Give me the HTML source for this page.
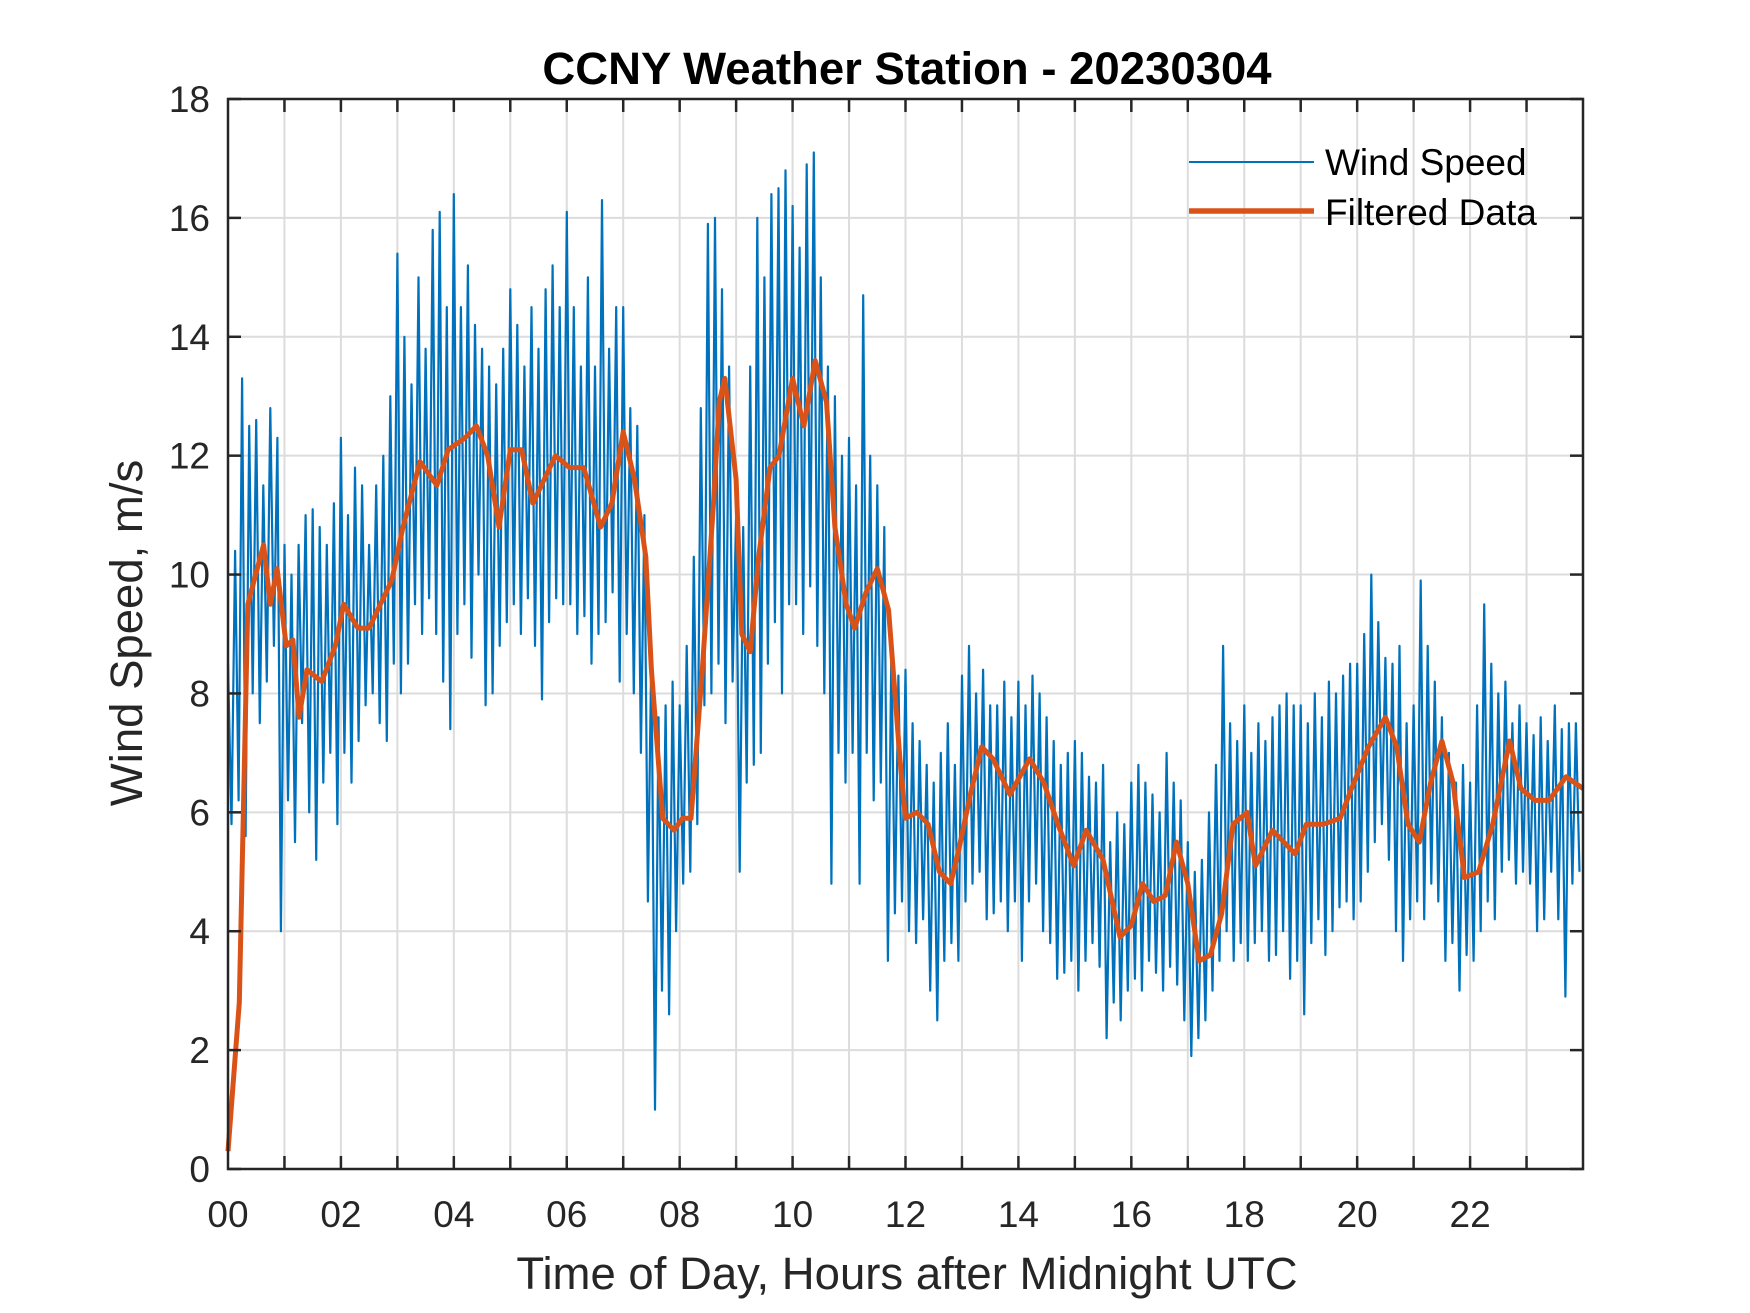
<!DOCTYPE html>
<html><head><meta charset="utf-8"><style>
html,body{margin:0;padding:0;background:#fff}
svg{display:block}
text{font-family:"Liberation Sans",sans-serif;fill:#262626}
</style></head><body>
<svg id="chart" width="1750" height="1313" viewBox="0 0 1750 1313" xmlns="http://www.w3.org/2000/svg">
<rect width="1750" height="1313" fill="#fff"/>
<g id="grid"></g>
<g id="series"></g>
<g id="axes"></g>
<text x="907" y="84" text-anchor="middle" font-size="45.5" font-weight="bold" fill="#000" style="fill:#000">CCNY Weather Station - 20230304</text>
<text x="907" y="1289" text-anchor="middle" font-size="45.5">Time of Day, Hours after Midnight UTC</text>
<text transform="translate(142,633) rotate(-90)" text-anchor="middle" font-size="45.5">Wind Speed, m/s</text>
<g>
<line x1="1189" y1="162" x2="1314" y2="162" stroke="#0072BD" stroke-width="2"/>
<text x="1325" y="175" font-size="37" style="fill:#000">Wind Speed</text>
<line x1="1189" y1="211" x2="1314" y2="211" stroke="#D95319" stroke-width="5.5"/>
<text x="1325" y="225" font-size="37" style="fill:#000">Filtered Data</text>
</g>
</svg>
<script>
const xTickLabels = ["00","02","04","06","08","10","12","14","16","18","20","22"];
const yTickLabels = [0,2,4,6,8,10,12,14,16,18];
// raw wind speed envelope, every 0.125 h (high / low samples)
const rawHigh = [8.5,10.4,13.3,12.5,12.6,11.5,12.8,12.3, 10.5,10.0,10.5,11.0,11.1,10.8,10.5,11.2,
 12.3,11.0,11.8,11.5,10.5,11.5,12.0,13.0, 15.4,14.0,13.2,15.0,13.8,15.8,16.1,14.5,
 16.4,14.5,15.2,14.2,13.8,13.5,13.2,13.8, 14.8,14.2,13.5,14.5,13.8,14.8,15.2,14.5,
 16.1,14.5,13.5,15.0,13.5,16.3,13.8,14.5, 14.5,12.8,12.5,11.0,8.8,7.6,7.8,8.2,
 7.8,8.8,10.3,12.8,15.9,16.0,14.8,13.5, 11.0,10.8,13.5,16.0,15.0,16.4,16.5,16.8,
 16.2,15.5,16.9,17.1,15.0,13.5,13.0,12.0, 12.3,11.5,14.7,12.0,11.5,10.8,8.8,8.3,
 8.4,7.5,7.2,6.8,6.5,7.0,7.5,6.8, 8.3,8.8,8.0,8.4,7.8,7.8,8.2,7.6,
 8.2,7.8,8.3,8.0,7.6,7.2,6.8,7.0, 7.2,7.0,6.6,6.5,6.8,5.5,6.0,5.8,
 6.5,6.8,6.5,6.3,6.0,7.0,6.5,6.2, 5.5,5.0,5.2,6.0,6.8,8.8,7.5,7.2,
 7.8,7.0,7.5,7.2,7.6,7.8,8.0,7.8, 7.8,7.5,8.0,7.6,8.2,8.0,8.3,8.5,
 8.5,9.0,10.0,9.2,8.6,8.5,8.8,7.5, 7.8,9.9,8.8,8.2,7.6,7.0,6.5,6.8,
 6.5,7.8,9.5,8.5,8.0,8.2,7.5,7.8, 7.5,7.3,7.6,7.2,7.8,7.4,7.5,7.5];
const rawLow = [5.8,6.2,5.6,8.0,7.5,8.2,8.8,4.0, 6.2,5.5,7.5,6.0,5.2,6.5,7.0,5.8,
 7.0,6.5,7.2,7.8,8.0,7.5,7.2,8.5, 8.0,8.5,9.5,9.0,9.6,9.0,8.2,7.4,
 9.0,9.5,8.6,10.0,7.8,8.0,8.8,9.2, 9.5,9.0,9.6,8.8,7.9,9.2,9.6,9.5,
 9.5,9.0,9.3,8.5,9.0,9.2,9.7,8.2, 9.0,8.0,7.0,4.5,1.0,3.0,2.6,4.0,
 4.8,5.0,5.8,7.8,8.0,8.5,7.5,8.2, 5.0,6.5,6.8,7.0,8.5,9.2,8.0,9.5,
 9.5,9.0,9.8,8.8,8.0,4.8,7.0,6.5, 7.0,4.8,7.0,6.2,6.5,3.5,4.3,4.5,
 4.0,3.8,4.2,3.0,2.5,3.5,3.8,3.5, 4.5,4.8,5.0,4.2,4.3,4.5,4.0,4.5,
 3.5,4.5,4.8,4.0,3.8,3.2,3.3,3.5, 3.0,3.5,3.8,3.4,2.2,2.8,2.5,3.0,
 3.2,3.0,3.5,3.3,3.0,3.4,3.1,2.5, 1.9,2.2,2.5,3.0,3.5,4.0,3.5,3.8,
 3.5,3.8,4.0,3.5,3.6,4.0,3.2,3.5, 2.6,3.8,4.2,3.6,4.0,4.4,4.5,4.2,
 4.5,5.0,5.5,5.8,5.2,4.0,3.5,4.2, 4.5,4.2,4.8,4.5,3.5,3.8,3.0,3.6,
 3.5,4.0,4.5,4.2,5.0,5.2,4.8,5.0, 4.8,4.0,4.2,5.0,4.2,2.9,4.8,5.0];
const filtT = [0,0.2,0.35,0.63,0.75,0.87,1.03,1.15,1.26,1.4,1.66,1.9,2.05,2.3,2.5,2.9,3.1,3.4,3.7,3.9,4.2,4.4,4.6,4.8,5.0,5.2,5.4,5.6,5.8,6.05,6.3,6.6,6.8,7.0,7.2,7.4,7.5,7.7,7.9,8.05,8.2,8.4,8.6,8.7,8.8,9.0,9.1,9.25,9.4,9.6,9.76,10.0,10.2,10.4,10.6,10.75,10.95,11.1,11.3,11.5,11.7,11.9,12.0,12.2,12.4,12.6,12.8,12.95,13.15,13.35,13.55,13.85,14.2,14.45,14.7,14.98,15.2,15.5,15.8,16.0,16.2,16.4,16.6,16.8,17.0,17.2,17.4,17.6,17.8,18.05,18.2,18.5,18.9,19.1,19.4,19.7,19.9,20.2,20.5,20.7,20.9,21.1,21.3,21.5,21.7,21.9,22.15,22.4,22.7,22.9,23.15,23.4,23.7,24.0];
const filtV = [0.3,2.8,9.5,10.5,9.5,10.1,8.8,8.9,7.6,8.4,8.2,8.8,9.5,9.1,9.1,9.9,10.8,11.9,11.5,12.1,12.3,12.5,12.0,10.8,12.1,12.1,11.2,11.6,12.0,11.8,11.8,10.8,11.2,12.4,11.6,10.3,8.4,5.9,5.7,5.9,5.9,8.4,11.2,12.9,13.3,11.6,9.0,8.7,10.3,11.8,12.0,13.3,12.5,13.6,12.9,10.8,9.5,9.1,9.7,10.1,9.4,6.9,5.9,6.0,5.8,5.0,4.8,5.4,6.3,7.1,6.9,6.3,6.9,6.5,5.8,5.1,5.7,5.2,3.9,4.1,4.8,4.5,4.6,5.5,4.8,3.5,3.6,4.3,5.8,6.0,5.1,5.7,5.3,5.8,5.8,5.9,6.4,7.1,7.6,7.1,5.8,5.5,6.5,7.2,6.5,4.9,5.0,5.8,7.2,6.4,6.2,6.2,6.6,6.4];

const L=228,R=1583,T=99,B=1169;
const xS=h=>L+(R-L)*h/24;
const yS=v=>B-(B-T)*v/18;
const NS="http://www.w3.org/2000/svg";
function mk(tag,attrs,parent){const e=document.createElementNS(NS,tag);for(const k in attrs)e.setAttribute(k,attrs[k]);parent.appendChild(e);return e;}
const grid=document.getElementById('grid'),series=document.getElementById('series'),axes=document.getElementById('axes');
for(let h=1;h<24;h++){
  const g=mk('line',{x1:xS(h),x2:xS(h),y1:T,y2:B,stroke:'#dcdcdc','stroke-width':2},grid);
  
  
}
yTickLabels.forEach(v=>{if(v>0&&v<18){
  const g=mk('line',{x1:L,x2:R,y1:yS(v),y2:yS(v),stroke:'#dcdcdc','stroke-width':2},grid);
  
  
}});
let pts=[];
const step=24/rawHigh.length;
for(let i=0;i<rawHigh.length;i++){
  pts.push(xS(i*step).toFixed(1)+','+yS(rawHigh[i]).toFixed(1));
  pts.push(xS(i*step+step/2).toFixed(1)+','+yS(rawLow[i]).toFixed(1));
}
const raw=mk('polyline',{points:pts.join(' '),fill:'none',stroke:'#0072BD','stroke-width':2.2,'stroke-linejoin':'round'},series);


const fp=filtT.map((t,i)=>xS(t).toFixed(1)+','+yS(filtV[i]).toFixed(1)).join(' ');
const filt=mk('polyline',{points:fp,fill:'none',stroke:'#D95319','stroke-width':5,'stroke-linejoin':'round'},series);


const box=mk('rect',{x:L,y:T,width:R-L,height:B-T,fill:'none',stroke:'#262626','stroke-width':2.5},axes);


for(let h=1;h<24;h++){
  const t1=mk('line',{x1:xS(h),x2:xS(h),y1:B,y2:B-13,stroke:'#262626','stroke-width':2.5},axes);
  
  
  const t2=mk('line',{x1:xS(h),x2:xS(h),y1:T,y2:T+13,stroke:'#262626','stroke-width':2.5},axes);
  
  
}
xTickLabels.forEach((lab,i)=>{
  const t=mk('text',{x:xS(i*2),y:1227,'text-anchor':'middle','font-size':37},axes);
  t.textContent=lab;
  
  
});
yTickLabels.forEach(v=>{
  const t1=mk('line',{x1:L,x2:L+13,y1:yS(v),y2:yS(v),stroke:'#262626','stroke-width':2.5},axes);
  
  
  const t2=mk('line',{x1:R,x2:R-13,y1:yS(v),y2:yS(v),stroke:'#262626','stroke-width':2.5},axes);
  
  
  const t=mk('text',{x:210,y:yS(v)+13,'text-anchor':'end','font-size':37},axes);
  t.textContent=v;
  
  
});
</script>
</body></html>
